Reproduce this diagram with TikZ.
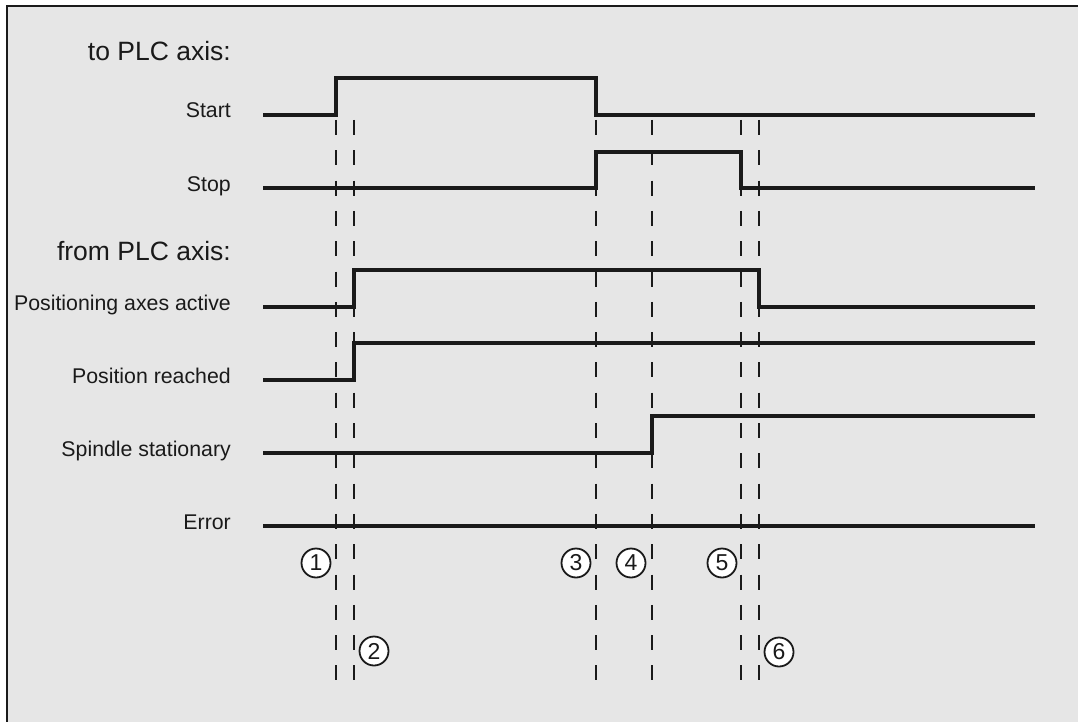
\documentclass[tikz,border=0pt]{standalone}
\usepackage{fontspec}
\setmainfont{Liberation Sans}
\definecolor{ink}{HTML}{1A1A1A}
\definecolor{bg}{HTML}{E6E6E6}
\begin{document}
\begin{tikzpicture}[x=1pt,y=-1pt,
  sig/.style={line width=3.6pt, draw=ink, line join=miter},
  marker/.style={line width=2.3pt, draw=ink, dash pattern=on 15pt off 15.3pt},
  lab/.style={anchor=base east, font=\fontsize{21.3}{25}\selectfont, inner sep=0pt, text=ink},
  head/.style={anchor=base east, font=\fontsize{26.5}{31}\selectfont, inner sep=0pt, text=ink},
  num/.style={circle, draw=ink, line width=1.8pt, fill=white, minimum size=29pt, inner sep=0pt, font=\fontsize{23}{26}\selectfont, text=ink}]
\useasboundingbox (0,0) rectangle (1078,722);
\fill[white] (0,0) rectangle (1078,722);
\fill[bg] (7,6) rectangle (1078,722);
\draw[line width=2.8pt, ink] (7,722) -- (7,6) -- (1078,6);

% headings
\node[head] (hto) at (231,61) {to PLC axis:};
\node[head] (hfrom) at (231,260) {from PLC axis:};

% signal labels
\node[lab] (lstart) at (231,118) {Start};
\node[lab] (lstop) at (231,191) {Stop};
\node[lab] (lpaa) at (231,310) {Positioning axes active};
\node[lab] (lpr) at (231,383) {Position reached};
\node[lab] (lss) at (231,456) {Spindle stationary};
\node[lab] (lerr) at (231,529) {Error};

% time markers
\foreach \n/\x in {1/336,2/354,3/596,4/652,5/741,6/759}{
  \coordinate (m\n top) at (\x,120);
  \coordinate (m\n bot) at (\x,680);
  \draw[marker] (m\n top) -- (m\n bot);
}

% signals
\draw[sig] (263,115) -- (336,115) -- (336,78) -- (596,78) -- (596,115) -- (1035,115);
\draw[sig] (263,188) -- (596,188) -- (596,152) -- (741,152) -- (741,188) -- (1035,188);
\draw[sig] (263,307) -- (354,307) -- (354,270) -- (759,270) -- (759,307) -- (1035,307);
\draw[sig] (263,380) -- (354,380) -- (354,343) -- (1035,343);
\draw[sig] (263,453) -- (652,453) -- (652,416) -- (1035,416);
\draw[sig] (263,526) -- (1035,526);

% circled numbers
\node[num] (n1) at (316,563) {1};
\node[num] (n2) at (374,651) {2};
\node[num] (n3) at (576,563) {3};
\node[num] (n4) at (631,563) {4};
\node[num] (n5) at (722,563) {5};
\node[num] (n6) at (779,652) {6};
\end{tikzpicture}
\end{document}
